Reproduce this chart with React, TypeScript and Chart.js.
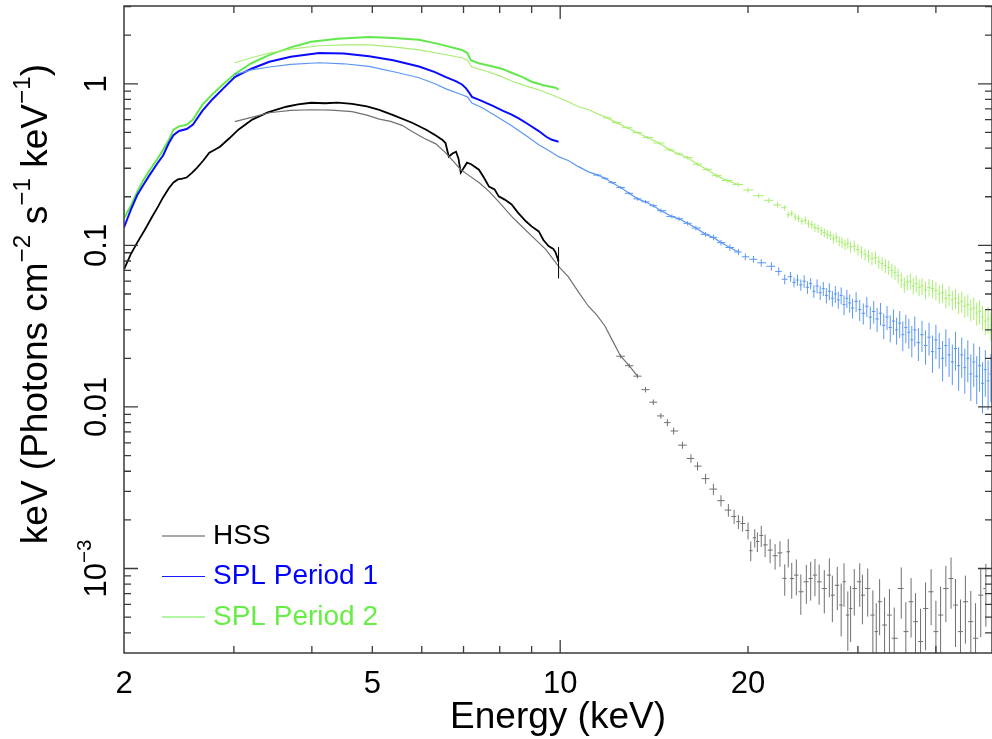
import React, { useEffect, useRef } from 'react';
import { Chart, registerables } from 'chart.js';
Chart.register(...registerables);

const FONT = '"Liberation Sans", Arial, Helvetica, sans-serif';

// ---------------- data (energy keV, keV Photons cm^-2 s^-1 keV^-1) ----------------
// HSS, low-energy instrument (2-10 keV)
const hssLowE = [2.00, 2.05, 2.10, 2.16, 2.22, 2.27, 2.31, 2.36, 2.40, 2.44, 2.48, 2.52, 2.57, 2.62, 2.68, 2.74, 2.80, 2.85, 2.95, 3.05, 3.21, 3.40, 3.64, 3.80, 3.99, 4.20, 4.40, 4.64, 4.90, 5.13, 5.40, 5.79, 6.10, 6.32, 6.47, 6.55, 6.63, 6.72, 6.81, 6.87, 6.93, 7.00, 7.09, 7.20, 7.41, 7.55, 7.69, 7.85, 7.97, 8.15, 8.36, 8.55, 8.81, 9.00, 9.24, 9.40, 9.58, 9.75, 9.83, 9.94];
const hssLowF = [0.071, 0.088, 0.104, 0.125, 0.151, 0.175, 0.198, 0.226, 0.245, 0.256, 0.259, 0.263, 0.281, 0.303, 0.335, 0.375, 0.392, 0.408, 0.46, 0.52, 0.60, 0.665, 0.721, 0.745, 0.763, 0.758, 0.765, 0.752, 0.725, 0.690, 0.640, 0.574, 0.52, 0.478, 0.451, 0.43, 0.354, 0.37, 0.380, 0.345, 0.282, 0.30, 0.325, 0.318, 0.294, 0.262, 0.231, 0.222, 0.201, 0.192, 0.179, 0.160, 0.141, 0.131, 0.122, 0.108, 0.099, 0.095, 0.0905, 0.080];
const hssLowErr = [0, 0, 0, 0, 0, 0, 0, 0, 0, 0, 0, 0, 0, 0, 0, 0, 0, 0, 0, 0, 0, 0, 0, 0, 0, 0, 0, 0, 0, 0, 0, 0, 0, 0, 0, 0, 0, 0, 0, 0, 0, 0, 0, 0, 0, 0, 0, 0, 0, 0, 0, 0, 0, 0, 0, 0, 0, 0, 0, 0.22];

// HSS, hard X-ray instrument (3-48 keV)
const hssHardE = [3.01, 3.20, 3.42, 3.70, 3.99, 4.30, 4.64, 4.90, 5.13, 5.35, 5.58, 5.79, 6.05, 6.32, 6.55, 6.75, 6.93, 7.10, 7.41, 7.70, 8.00, 8.36, 8.70, 9.05, 9.48, 9.94, 10.3, 10.7, 11.1, 11.45, 11.8, 12.1, 12.5, 12.9, 13.3, 13.7, 14.1, 14.5, 14.85, 15.2, 15.7, 16.2, 16.6, 17.1, 17.6, 18.1, 18.6, 19.0, 19.3, 19.6, 20.0, 20.2, 20.5, 20.7, 21.0, 21.3, 21.7, 22.1, 22.5, 22.9, 23.2, 23.5, 23.9, 24.3, 24.8, 25.2, 25.6, 26.0, 26.5, 27.0, 27.3, 27.8, 28.2, 28.5, 28.9, 29.2, 29.6, 30.2, 30.5, 31.1, 31.7, 32.1, 32.5, 33.1, 33.7, 34.3, 35.2, 35.8, 36.5, 37.1, 37.8, 38.5, 39.3, 40.0, 40.7, 41.5, 42.3, 43.0, 43.8, 44.6, 45.5, 46.3, 47.2, 48.1];
const hssHardF = [0.583, 0.620, 0.662, 0.684, 0.691, 0.688, 0.672, 0.640, 0.605, 0.585, 0.553, 0.506, 0.460, 0.425, 0.375, 0.330, 0.294, 0.275, 0.245, 0.215, 0.183, 0.151, 0.130, 0.112, 0.0945, 0.0742, 0.0640, 0.0513, 0.0420, 0.0370, 0.0316, 0.0262, 0.0206, 0.0180, 0.0155, 0.0128, 0.0107, 0.0088, 0.0080, 0.0071, 0.0058, 0.0048, 0.0043, 0.0036, 0.0031, 0.00263, 0.0023, 0.0021, 0.00195, 0.0019, 0.00172, 0.00129, 0.00155, 0.00147, 0.00160, 0.00140, 0.00130, 0.00120, 0.00125, 0.00087, 0.00127, 8.67e-4, 9.10e-4, 7.18e-4, 8.28e-4, 8.67e-4, 9.10e-4, 8.28e-4, 7.52e-4, 9.10e-4, 6.84e-4, 7.88e-4, 5.94e-4, 8.28e-4, 5.15e-4, 5.66e-4, 7.52e-4, 8.28e-4, 6.84e-4, 7.52e-4, 5.15e-4, 4.07e-4, 6.23e-4, 4.47e-4, 5.15e-4, 3.70e-4, 7.52e-4, 4.07e-4, 6.23e-4, 4.69e-4, 3.53e-4, 5.66e-4, 7.18e-4, 4.07e-4, 5.15e-4, 7.52e-4, 8.67e-4, 5.94e-4, 4.07e-4, 6.23e-4, 4.69e-4, 3.70e-4, 6.84e-4, 7.52e-4];
const hssHardErr = [0, 0, 0, 0, 0, 0, 0, 0, 0, 0, 0, 0, 0, 0, 0, 0, 0, 0, 0, 0, 0, 0, 0, 0, 0, 0, 0, 0, 0, 0, 0, 0, 0.03, 0.03, 0.03, 0.04, 0.04, 0.04, 0.05, 0.05, 0.05, 0.06, 0.06, 0.07, 0.08, 0.08, 0.09, 0.10, 0.10, 0.11, 0.12, 0.14, 0.13, 0.14, 0.15, 0.16, 0.17, 0.18, 0.18, 0.22, 0.20, 0.25, 0.25, 0.28, 0.27, 0.27, 0.26, 0.28, 0.30, 0.27, 0.32, 0.30, 0.36, 0.30, 0.40, 0.38, 0.32, 0.30, 0.34, 0.33, 0.42, 0.50, 0.38, 0.48, 0.45, 0.55, 0.35, 0.52, 0.40, 0.50, 0.60, 0.45, 0.38, 0.55, 0.50, 0.38, 0.35, 0.45, 0.58, 0.45, 0.55, 0.65, 0.45, 0.42];

// SPL Period 1, low-energy instrument
const p1LowE = [2.00, 2.05, 2.10, 2.16, 2.20, 2.26, 2.31, 2.36, 2.40, 2.45, 2.52, 2.58, 2.67, 2.77, 2.88, 3.01, 3.20, 3.42, 3.70, 4.11, 4.50, 4.94, 5.40, 5.94, 6.30, 6.56, 6.80, 6.96, 7.06, 7.15, 7.22, 7.45, 7.80, 8.10, 8.36, 8.58, 8.90, 9.24, 9.50, 9.70, 9.94];
const p1LowF = [0.129, 0.165, 0.205, 0.245, 0.274, 0.32, 0.36, 0.43, 0.48, 0.51, 0.525, 0.56, 0.68, 0.80, 0.93, 1.10, 1.24, 1.37, 1.47, 1.55, 1.54, 1.48, 1.40, 1.28, 1.18, 1.10, 1.04, 0.99, 0.94, 0.88, 0.83, 0.79, 0.73, 0.68, 0.645, 0.61, 0.56, 0.51, 0.47, 0.45, 0.438];

// SPL Period 1, hard X-ray instrument
const p1HardE = [3.01, 3.20, 3.42, 3.70, 4.11, 4.50, 4.94, 5.13, 5.50, 5.94, 6.30, 6.56, 6.96, 7.10, 7.22, 7.50, 7.90, 8.36, 8.80, 9.24, 9.60, 9.94, 10.3, 10.7, 11.1, 11.5, 11.8, 12.1, 12.5, 12.9, 13.3, 13.7, 14.1, 14.5, 15.1, 15.5, 16.0, 16.5, 17.1, 17.6, 18.1, 18.7, 19.3, 19.8, 20.4, 21.0, 21.8, 22.4, 22.9,
  23.4, 23.7, 24.0, 24.3, 24.6, 24.9, 25.2, 25.5, 25.8, 26.1, 26.4, 26.7, 27.0, 27.3, 27.6, 27.9, 28.2, 28.5, 28.8, 29.1, 29.4, 29.8, 30.2, 30.6, 31.0, 31.4, 31.8, 32.2, 32.6, 33.0, 33.4, 33.8, 34.2, 34.6, 35.0, 35.4, 35.8, 36.2, 36.6, 37.0, 37.5, 38.0, 38.5, 39.0, 39.5, 40.0, 40.5, 41.0, 41.5, 42.0, 42.5, 43.0, 43.5, 44.0, 44.5, 45.0, 45.5, 46.0, 46.5, 47.0, 47.5, 48.0, 48.5, 49.0];
const p1HardF = [1.14, 1.22, 1.27, 1.32, 1.35, 1.33, 1.28, 1.24, 1.17, 1.09, 1.00, 0.93, 0.855, 0.83, 0.76, 0.71, 0.63, 0.55, 0.48, 0.42, 0.385, 0.354, 0.335, 0.307, 0.285, 0.272, 0.260, 0.245, 0.228, 0.210, 0.194, 0.186, 0.176, 0.164, 0.151, 0.146, 0.137, 0.128, 0.117, 0.112, 0.104, 0.097, 0.091, 0.085, 0.082, 0.078, 0.0742, 0.069, 0.0617,
  0.064, 0.059, 0.061, 0.057, 0.060, 0.055, 0.058, 0.052, 0.056, 0.051, 0.054, 0.049, 0.052, 0.047, 0.050, 0.046, 0.049, 0.043, 0.047, 0.044, 0.041, 0.045, 0.040, 0.038, 0.042, 0.036, 0.039, 0.035, 0.038, 0.032, 0.036, 0.031, 0.034, 0.030, 0.033, 0.028, 0.031, 0.029, 0.026, 0.030, 0.025, 0.028, 0.024, 0.027, 0.022, 0.026, 0.023, 0.020, 0.024, 0.021, 0.019, 0.023, 0.018, 0.021, 0.0175, 0.020, 0.016, 0.019, 0.0155, 0.018, 0.014, 0.017, 0.0145, 0.016];
const p1HardErr = [0, 0, 0, 0, 0, 0, 0, 0, 0, 0, 0, 0, 0, 0, 0, 0, 0, 0, 0, 0, 0, 0, 0, 0, 0, 0.02, 0.02, 0.02, 0.02, 0.02, 0.025, 0.025, 0.025, 0.03, 0.03, 0.03, 0.03, 0.035, 0.035, 0.04, 0.04, 0.045, 0.045, 0.05, 0.05, 0.055, 0.06, 0.06, 0.07,
  0.07, 0.07, 0.08, 0.08, 0.09, 0.09, 0.08, 0.09, 0.10, 0.10, 0.10, 0.11, 0.12, 0.11, 0.12, 0.12, 0.12, 0.14, 0.13, 0.13, 0.14, 0.14, 0.15, 0.15, 0.14, 0.16, 0.16, 0.17, 0.16, 0.18, 0.17, 0.19, 0.18, 0.19, 0.19, 0.21, 0.20, 0.21, 0.22, 0.21, 0.23, 0.22, 0.24, 0.23, 0.26, 0.24, 0.25, 0.28, 0.26, 0.27, 0.28, 0.27, 0.30, 0.28, 0.31, 0.29, 0.32, 0.30, 0.33, 0.31, 0.35, 0.32, 0.34, 0.33];

// SPL Period 2, low-energy instrument
const p2LowE = [2.00, 2.05, 2.10, 2.15, 2.20, 2.26, 2.31, 2.36, 2.40, 2.45, 2.52, 2.58, 2.67, 2.77, 2.88, 3.01, 3.20, 3.42, 3.70, 3.99, 4.40, 4.94, 5.40, 5.94, 6.40, 6.96, 7.10, 7.19, 7.40, 7.80, 8.06, 8.36, 8.70, 9.00, 9.40, 9.83, 9.94];
const p2LowF = [0.147, 0.175, 0.215, 0.255, 0.294, 0.34, 0.39, 0.45, 0.52, 0.545, 0.558, 0.60, 0.74, 0.86, 0.99, 1.15, 1.34, 1.51, 1.68, 1.82, 1.90, 1.95, 1.92, 1.87, 1.76, 1.62, 1.55, 1.40, 1.34, 1.28, 1.24, 1.17, 1.10, 1.03, 0.98, 0.945, 0.92];

// SPL Period 2, hard X-ray instrument
const p2HardE = [3.01, 3.20, 3.42, 3.70, 4.11, 4.50, 4.94, 5.40, 5.94, 6.40, 6.96, 7.10, 7.22, 7.60, 8.00, 8.36, 8.80, 9.24, 9.80, 10.3, 10.7, 11.1, 11.5, 11.9, 12.3, 12.8, 13.3, 13.8, 14.4, 15.0, 15.5, 16.0, 16.6, 17.2, 17.8, 18.5, 19.3, 20.0, 20.8, 21.6, 22.3, 22.9,
  23.2, 23.5, 23.8, 24.1, 24.4, 24.7, 25.0, 25.3, 25.6, 25.9, 26.2, 26.5, 26.8, 27.1, 27.4, 27.7, 28.0, 28.3, 28.6, 28.9, 29.2, 29.6, 30.0, 30.4, 30.8, 31.2, 31.6, 32.0, 32.4, 32.8, 33.2, 33.6, 34.0, 34.4, 34.8, 35.2, 35.6, 36.0, 36.4, 36.8, 37.2, 37.6, 38.0, 38.5, 39.0, 39.5, 40.0, 40.5, 41.0, 41.5, 42.0, 42.5, 43.0, 43.5, 44.0, 44.5, 45.0, 45.5, 46.0, 46.5, 47.0, 47.5, 48.0, 48.5, 49.0];
const p2HardF = [1.35, 1.45, 1.55, 1.64, 1.72, 1.74, 1.74, 1.69, 1.62, 1.54, 1.45, 1.40, 1.27, 1.20, 1.12, 1.04, 0.97, 0.918, 0.84, 0.774, 0.721, 0.691, 0.65, 0.615, 0.575, 0.535, 0.498, 0.465, 0.43, 0.39, 0.368, 0.349, 0.318, 0.295, 0.27, 0.252, 0.238, 0.220, 0.203, 0.19, 0.178, 0.171,
  0.155, 0.158, 0.150, 0.147, 0.141, 0.143, 0.136, 0.134, 0.129, 0.127, 0.123, 0.120, 0.117, 0.115, 0.110, 0.112, 0.106, 0.104, 0.101, 0.103, 0.098, 0.099, 0.094, 0.091, 0.088, 0.086, 0.083, 0.084, 0.079, 0.077, 0.075, 0.073, 0.070, 0.068, 0.065, 0.061, 0.057, 0.059, 0.060, 0.056, 0.058, 0.055, 0.056, 0.053, 0.055, 0.054, 0.0525, 0.050, 0.051, 0.047, 0.049, 0.046, 0.047, 0.044, 0.045, 0.042, 0.043, 0.040, 0.041, 0.038, 0.039, 0.036, 0.034, 0.035, 0.032];
const p2HardErr = [0, 0, 0, 0, 0, 0, 0, 0, 0, 0, 0, 0, 0, 0, 0, 0, 0, 0, 0, 0, 0, 0, 0, 0.015, 0.015, 0.015, 0.015, 0.02, 0.02, 0.02, 0.02, 0.025, 0.025, 0.025, 0.03, 0.03, 0.03, 0.035, 0.035, 0.04, 0.04, 0.04,
  0.045, 0.045, 0.05, 0.05, 0.05, 0.055, 0.055, 0.055, 0.06, 0.06, 0.06, 0.065, 0.065, 0.065, 0.07, 0.07, 0.07, 0.075, 0.075, 0.075, 0.08, 0.08, 0.08, 0.085, 0.085, 0.09, 0.09, 0.09, 0.095, 0.095, 0.10, 0.10, 0.10, 0.105, 0.105, 0.11, 0.11, 0.11, 0.115, 0.115, 0.12, 0.12, 0.12, 0.125, 0.125, 0.13, 0.13, 0.13, 0.135, 0.135, 0.14, 0.14, 0.145, 0.145, 0.15, 0.15, 0.155, 0.155, 0.16, 0.16, 0.17, 0.17, 0.18, 0.19, 0.20];

// axes / labels
const xTickLabels = [2, 5, 10, 20];
const yTickLabels = [1, 0.1, 0.01, 0.001];
const legendLabels = ['HSS', 'SPL Period 1', 'SPL Period 2'];
const xTitle = 'Energy (keV)';
const X_MIN = 2, X_MAX = 49.2, Y_MIN = 3.05e-4, Y_MAX = 3.03;

// ---------------- styles ----------------
const C_HSS_LOW = '#000000';
const C_HSS_HARD = '#707070';
const C_P1_LOW = '#0a0aff';
const C_P1_HARD = '#5b97f5';
const C_P2_LOW = '#62e84c';
const C_P2_HARD = '#a8ee70';
const LEGEND = [
  { line: '#555555', text: '#000000' },
  { line: '#1a1aff', text: '#0000ff' },
  { line: '#66ee44', text: '#66ee44' },
];

const pts = (e: number[], f: number[]) => e.map((x, i) => ({ x, y: f[i] }));

function lineSet(label: string, e: number[], f: number[], errs: number[] | null, color: string, width: number, cut: number) {
  return {
    label,
    data: pts(e, f),
    errs,
    showLine: true,
    borderColor: color,
    backgroundColor: color,
    borderWidth: width,
    pointRadius: 0,
    tension: 0,
    segment: {
      borderColor: (c: any) => (c.p0.parsed.x >= cut ? 'rgba(0,0,0,0)' : color),
    },
  };
}

type Part = { t: string; sup?: boolean };

function drawRich(ctx: CanvasRenderingContext2D, parts: Part[], cx: number, cy: number, size: number, color: string) {
  const supSize = size * 0.66;
  const widths = parts.map((p) => {
    ctx.font = `${p.sup ? supSize : size}px ${FONT}`;
    return ctx.measureText(p.t).width;
  });
  const total = widths.reduce((a, b) => a + b, 0);
  let x = cx - total / 2;
  ctx.fillStyle = color;
  ctx.textAlign = 'left';
  ctx.textBaseline = 'middle';
  parts.forEach((p, i) => {
    ctx.font = `${p.sup ? supSize : size}px ${FONT}`;
    ctx.fillText(p.t, x, p.sup ? cy - size * 0.36 : cy);
    x += widths[i];
  });
}

const errorBars = {
  id: 'errorBars',
  afterDatasetsDraw(chart: any) {
    const { ctx, chartArea: a, scales } = chart;
    const xs = scales.x, ys = scales.y;
    ctx.save();
    ctx.beginPath();
    ctx.rect(a.left, a.top, a.right - a.left, a.bottom - a.top);
    ctx.clip();
    chart.data.datasets.forEach((ds: any) => {
      if (!ds.errs) return;
      const d = ds.data;
      ctx.strokeStyle = ds.borderColor;
      ctx.lineWidth = 1;
      ctx.beginPath();
      d.forEach((p: any, i: number) => {
        const r = ds.errs[i];
        if (!r) return;
        const lo = i > 0 ? Math.sqrt(d[i - 1].x * p.x) : p.x;
        const hi = i < d.length - 1 ? Math.sqrt(d[i + 1].x * p.x) : p.x;
        const px = xs.getPixelForValue(p.x);
        const py = ys.getPixelForValue(p.y);
        const yt = ys.getPixelForValue(p.y * (1 + r));
        const yb = ys.getPixelForValue(Math.max(p.y * (1 - r), 1e-7));
        ctx.moveTo(xs.getPixelForValue(lo), py);
        ctx.lineTo(xs.getPixelForValue(hi), py);
        ctx.moveTo(px, yt);
        ctx.lineTo(px, yb);
      });
      ctx.stroke();
    });
    ctx.restore();
  },
};

const frame = {
  id: 'frame',
  afterDraw(chart: any) {
    const { ctx, chartArea: a, scales } = chart;
    const xs = scales.x, ys = scales.y;
    ctx.save();
    ctx.strokeStyle = '#3a3a3a';
    ctx.lineWidth = 1.5;
    ctx.strokeRect(a.left, a.top, a.right - a.left, a.bottom - a.top);
    ctx.lineWidth = 1.3;
    ctx.beginPath();
    for (let dec = 1; dec <= 100; dec *= 10) {
      for (let m = 1; m <= 9; m++) {
        const v = m * dec;
        if (v <= X_MIN || v >= X_MAX) continue;
        const px = xs.getPixelForValue(v);
        const len = m === 1 ? 13 : 7;
        ctx.moveTo(px, a.bottom); ctx.lineTo(px, a.bottom - len);
        ctx.moveTo(px, a.top); ctx.lineTo(px, a.top + len);
      }
    }
    for (let e = -4; e <= 0; e++) {
      const dec = Math.pow(10, e);
      for (let m = 1; m <= 9; m++) {
        const v = m * dec;
        if (v <= Y_MIN || v >= Y_MAX) continue;
        const py = ys.getPixelForValue(v);
        const len = m === 1 ? 14 : 7;
        ctx.moveTo(a.left, py); ctx.lineTo(a.left + len, py);
        ctx.moveTo(a.right, py); ctx.lineTo(a.right - len, py);
      }
    }
    ctx.stroke();

    // x tick labels
    ctx.fillStyle = '#000';
    ctx.font = `31px ${FONT}`;
    ctx.textAlign = 'center';
    ctx.textBaseline = 'middle';
    xTickLabels.forEach((v) => {
      ctx.fillText(String(v), xs.getPixelForValue(v), a.bottom + 31);
    });

    // y tick labels (rotated)
    yTickLabels.forEach((v) => {
      const py = ys.getPixelForValue(v);
      ctx.save();
      ctx.translate(a.left - 27, py);
      ctx.rotate(-Math.PI / 2);
      if (v < 0.005) {
        const ex = Math.round(Math.log10(v));
        drawRich(ctx, [{ t: '10' }, { t: '\u2212' + String(-ex), sup: true }], 0, 0, 31, '#000');
      } else {
        ctx.font = `31px ${FONT}`;
        ctx.textAlign = 'center';
        ctx.textBaseline = 'middle';
        ctx.fillText(String(v), 0, 0);
      }
      ctx.restore();
    });

    // axis titles
    ctx.font = `37px ${FONT}`;
    ctx.textAlign = 'center';
    ctx.textBaseline = 'middle';
    ctx.fillStyle = '#000';
    ctx.fillText(xTitle, (a.left + a.right) / 2, a.bottom + 65);

    ctx.save();
    ctx.translate(37, 304);
    ctx.rotate(-Math.PI / 2);
    drawRich(ctx, [
      { t: 'keV (Photons cm' }, { t: '\u22122', sup: true },
      { t: ' s' }, { t: '\u22121', sup: true },
      { t: ' keV' }, { t: '\u22121', sup: true }, { t: ')' },
    ], 0, 0, 37, '#000');
    ctx.restore();

    // legend
    const lx = a.left + 38, ly = a.bottom - 117, rowH = 40.5;
    legendLabels.forEach((lab, i) => {
      const y = ly + i * rowH;
      ctx.strokeStyle = LEGEND[i].line;
      ctx.lineWidth = 1.2;
      ctx.beginPath();
      ctx.moveTo(lx, y); ctx.lineTo(lx + 43, y);
      ctx.stroke();
      ctx.fillStyle = LEGEND[i].text;
      ctx.font = `28px ${FONT}`;
      ctx.textAlign = 'left';
      ctx.textBaseline = 'middle';
      ctx.fillText(lab, lx + 51, y);
    });
    ctx.restore();
  },
};

export default function App() {
  const ref = useRef<HTMLCanvasElement | null>(null);
  useEffect(() => {
    if (!ref.current) return;
    const chart = new Chart(ref.current, {
      type: 'scatter',
      data: {
        datasets: [
          lineSet('HSS', hssHardE, hssHardF, hssHardErr, C_HSS_HARD, 1.2, 13.0),
          lineSet('HSS', hssLowE, hssLowF, hssLowErr, C_HSS_LOW, 1.8, 100),
          lineSet('SPL Period 1', p1HardE, p1HardF, p1HardErr, C_P1_HARD, 1.2, 19.0),
          lineSet('SPL Period 1', p1LowE, p1LowF, null, C_P1_LOW, 2, 100),
          lineSet('SPL Period 2', p2HardE, p2HardF, p2HardErr, C_P2_HARD, 1.2, 19.0),
          lineSet('SPL Period 2', p2LowE, p2LowF, null, C_P2_LOW, 2, 100),
        ] as any,
      },
      options: {
        animation: false,
        responsive: false,
        devicePixelRatio: 1,
        layout: { padding: { left: 124, top: 6, right: 0, bottom: 86 } },
        plugins: { legend: { display: false }, tooltip: { enabled: false } },
        scales: {
          x: { type: 'logarithmic', min: X_MIN, max: X_MAX, display: false },
          y: { type: 'logarithmic', min: Y_MIN, max: Y_MAX, display: false },
        },
      },
      plugins: [errorBars, frame],
    } as any);
    return () => chart.destroy();
  }, []);
  return (
    <div style={{ position: 'absolute', left: 0, top: 0, width: 992, height: 739, background: '#fff' }}>
      <canvas ref={ref} width={992} height={739} />
    </div>
  );
}
